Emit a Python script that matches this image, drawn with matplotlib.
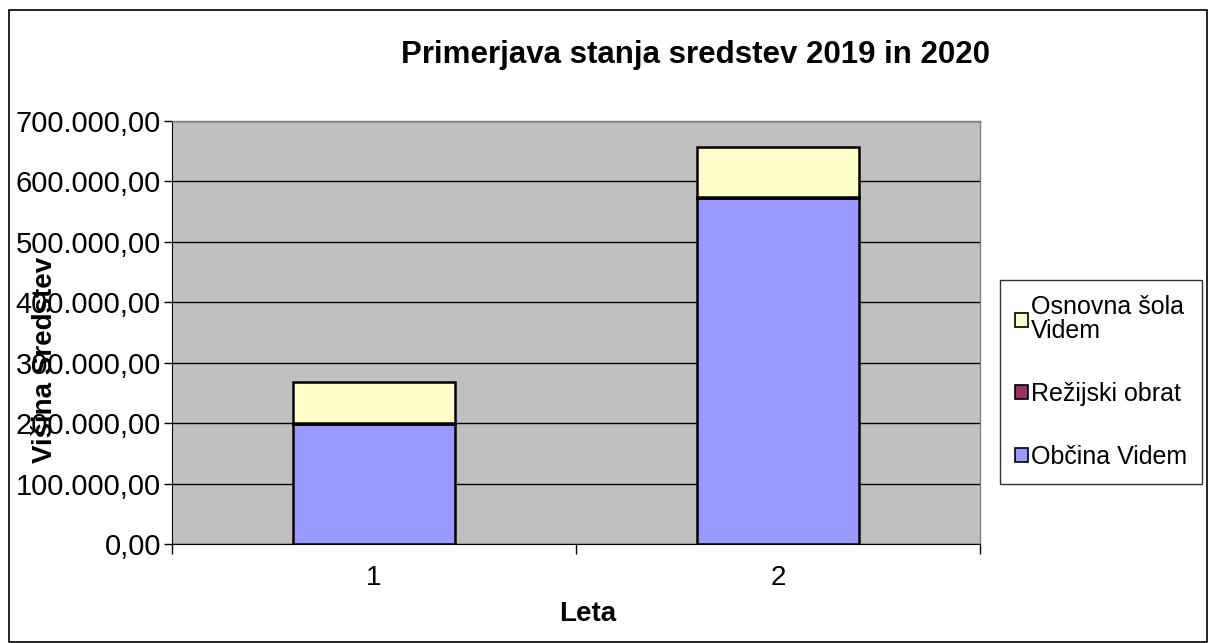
import matplotlib
matplotlib.use("Agg")
import matplotlib.pyplot as plt
from matplotlib.patches import Rectangle
from matplotlib.ticker import FuncFormatter, FixedLocator

plt.rcParams['font.family'] = ['Liberation Sans', 'DejaVu Sans']

categories = ["1", "2"]
obcina_videm = [198000, 572000]
rezijski_obrat = [2500, 3000]
osnovna_sola = [67500, 82000]
series_names = ["Občina Videm", "Režijski obrat", "Osnovna šola\nVidem"]
colors = ["#9999FF", "#993366", "#FFFFCC"]

W, H = 1208, 643
fig = plt.figure(figsize=(W / 100, H / 100), dpi=100)
fig.patch.set_facecolor("white")

# outer border
fig.add_artist(Rectangle((9 / W, 1 / H), (W - 10) / W, (H - 11) / H, transform=fig.transFigure,
                         fill=False, edgecolor="black", linewidth=1.2))

ax = fig.add_axes([172 / W, (H - 544) / H, (980 - 172) / W, (544 - 121) / H])
ax.set_facecolor("#C0C0C0")

x = [1, 2]
bottoms = [0, 0]
handles = []
for vals, col, name in zip([obcina_videm, rezijski_obrat, osnovna_sola], colors, series_names):
    b = ax.bar(x, vals, width=0.4, bottom=bottoms, color=col, edgecolor="black",
               linewidth=1.8, label=name, zorder=3)
    handles.append(b)
    bottoms = [bb + v for bb, v in zip(bottoms, vals)]

ax.set_xlim(0.5, 2.5)
ax.set_ylim(0, 700000)
ax.set_yticks(range(0, 700001, 100000))
ax.yaxis.set_major_formatter(FuncFormatter(
    lambda v, p: f"{v:,.2f}".replace(",", "X").replace(".", ",").replace("X", ".")))
ax.grid(axis="y", color="black", linewidth=1.0, zorder=1)
ax.set_axisbelow(True)

ax.set_xticks(x)
ax.set_xticklabels(categories)
ax.xaxis.set_minor_locator(FixedLocator([0.5, 1.5, 2.5]))
ax.tick_params(axis="x", which="major", length=0, pad=15, labelsize=20)
ax.tick_params(axis="x", which="minor", length=7, width=1, color="black", direction="out")
ax.tick_params(axis="y", length=6, width=1, direction="out", labelsize=21, pad=2)

for s in ["top", "right"]:
    ax.spines[s].set_color("#808080")
    ax.spines[s].set_linewidth(1.0)
ax.spines["left"].set_color("black")
ax.spines["bottom"].set_color("black")

fig.text(588 / W, 1 - 614 / H, "Leta", fontsize=20, fontweight="bold", ha="center", va="center")
fig.text(45 / W, 1 - 360 / H, "Višina Sredstev", rotation=90, fontsize=20, fontweight="bold",
         ha="center", va="center")

fig.text(696 / W, 1 - 55 / H, "Primerjava stanja sredstev 2019 in 2020", fontsize=22.5,
         fontweight="bold", ha="center", va="center")

leg = fig.legend(handles[::-1], [h.get_label() for h in handles[::-1]],
                 loc="upper left", bbox_to_anchor=(1000 / W, 1 - 280 / H),
                 frameon=True, fancybox=False, edgecolor="black", fontsize=18,
                 handlelength=0.5, handleheight=0.5, handletextpad=0.15,
                 labelspacing=1.55, borderpad=0.6, borderaxespad=0)
leg.get_frame().set_linewidth(1.0)
for t in leg.get_texts():
    t.set_linespacing(1.0)
for p in leg.get_patches():
    p.set_linewidth(1.2)

fig.savefig("out.png", dpi=100, facecolor="white")
